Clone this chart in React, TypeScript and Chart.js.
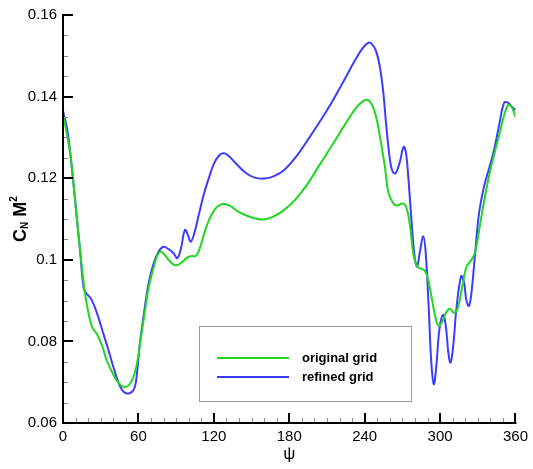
import React, { useEffect, useRef } from "react";
import { Chart, registerables } from "chart.js";

Chart.register(...registerables);

// Azimuth (deg) and normal-force coefficient for the original grid
const psiOriginal = [
  0, 3, 6, 9.5, 13.5, 17, 19, 23, 27, 31, 35, 39, 43, 48, 52, 55, 58.5, 62, 65, 68, 72, 75, 77.5, 80, 84, 88, 91, 95, 99,
  102, 106, 110, 114, 118, 122, 126, 129, 133, 140, 148, 155, 160, 166, 175, 185, 195, 204, 215, 225, 233, 238, 241.5,
  245, 249, 252, 256, 258.5, 261, 263.5, 266, 270, 273, 276, 279, 282, 285, 288, 291, 294, 297, 299, 302, 305, 308,
  311, 314, 318, 321, 325, 328, 332, 336, 340, 344, 347, 351, 354, 356, 358, 360,
];
const cnOriginal = [
  0.1355, 0.131, 0.1255, 0.115, 0.1025, 0.093, 0.089, 0.0836, 0.0818, 0.079, 0.0752, 0.0725, 0.0703, 0.0688, 0.0692,
  0.0705, 0.074, 0.081, 0.087, 0.093, 0.098, 0.101, 0.102, 0.1015, 0.1, 0.0988, 0.0987, 0.0995, 0.1006, 0.1009, 0.101,
  0.104, 0.108, 0.111, 0.1128, 0.1136, 0.1137, 0.1132, 0.1117, 0.1106, 0.11, 0.1099, 0.1104, 0.112, 0.1148, 0.1188,
  0.1232, 0.1285, 0.1335, 0.1372, 0.1387, 0.1392, 0.1385, 0.1352, 0.1305, 0.123, 0.117, 0.1148, 0.1136, 0.1133,
  0.1138, 0.113, 0.1085, 0.101, 0.0983, 0.0978, 0.0973, 0.0945, 0.0895, 0.085, 0.0838, 0.085, 0.0872, 0.088, 0.087,
  0.088, 0.094, 0.0983, 0.1, 0.102, 0.109, 0.116, 0.122, 0.127, 0.1305, 0.1355, 0.1379, 0.1378, 0.1368, 0.135,
];

// Azimuth (deg) and normal-force coefficient for the refined grid
const psiRefined = [
  0, 3, 5.5, 9.5, 13.5, 16.5, 18.5, 21, 24, 28, 32, 36, 40, 44, 47, 50, 53, 56, 58, 61, 64, 68, 72, 76, 80, 84, 88, 91,
  94, 97, 99.5, 101.5, 104, 108, 112, 116, 120, 124, 127.5, 131, 138, 145, 152, 160, 168, 176, 186, 195, 204, 214, 224,
  232, 238, 243, 246, 249, 252, 255, 257, 260, 262, 264.5, 268, 271, 273, 276, 279, 281.5, 284, 286.5, 288.5, 291, 293,
  295, 297, 299.5, 302.3, 304.5, 306.5, 308.3, 310.5, 313, 316.8, 319, 321, 323, 325, 328, 331, 335, 339, 343, 347,
  351, 354, 357, 360,
];
const cnRefined = [
  0.1365, 0.1325, 0.127, 0.115, 0.1025, 0.093, 0.0918, 0.091, 0.0894, 0.086, 0.082, 0.078, 0.0738, 0.07, 0.0681,
  0.0673, 0.0673, 0.068, 0.07, 0.079, 0.086, 0.094, 0.099, 0.102, 0.1032, 0.1026, 0.1016, 0.1004, 0.103, 0.1073,
  0.106, 0.1044, 0.106, 0.111, 0.116, 0.12, 0.1235, 0.1255, 0.1261, 0.1257, 0.1235, 0.1214, 0.1202, 0.1199, 0.1205,
  0.122, 0.1255, 0.1295, 0.1337, 0.1387, 0.1442, 0.1487, 0.1517, 0.1532, 0.1528, 0.1512, 0.1475, 0.1405, 0.1335,
  0.1248, 0.1218, 0.1212, 0.124, 0.1277, 0.126, 0.115, 0.103, 0.0983, 0.102, 0.1058, 0.102, 0.088, 0.075, 0.0695,
  0.074, 0.083, 0.0865, 0.084, 0.0775, 0.0748, 0.079, 0.088, 0.096, 0.0945, 0.09, 0.0887, 0.092, 0.102, 0.1114, 0.118,
  0.1224, 0.127, 0.133, 0.1385, 0.1385, 0.1375, 0.1367,
];

const xTicks = [0, 60, 120, 180, 240, 300, 360];
const yTicks = [0.06, 0.08, 0.1, 0.12, 0.14, 0.16];
const seriesNames = ["original grid", "refined grid"];
const seriesColors = ["#1fd81f", "#3c3cff"];

const FONT = "'Liberation Sans', Arial, Helvetica, sans-serif";

// Axis lines, inward tick marks, axis titles and the boxed legend
const framePlugin = {
  id: "frame",
  afterDatasetsDraw(chart: any) {
    const { ctx, chartArea } = chart;
    const xs = chart.scales.x;
    const ys = chart.scales.y;
    const left = chartArea.left;
    const bottom = chartArea.bottom;
    ctx.save();

    // minor ticks
    ctx.strokeStyle = "#8a8a8a";
    ctx.lineWidth = 1;
    for (let v = 0; v <= 360; v += 10) {
      if (v % 60 === 0) continue;
      const px = Math.round(xs.getPixelForValue(v)) + 0.5;
      ctx.beginPath();
      ctx.moveTo(px, bottom);
      ctx.lineTo(px, bottom - 5);
      ctx.stroke();
    }
    for (let i = 0; i <= 20; i++) {
      if (i % 4 === 0) continue;
      const v = 0.06 + i * 0.005;
      const py = Math.round(ys.getPixelForValue(v)) + 0.5;
      ctx.beginPath();
      ctx.moveTo(left, py);
      ctx.lineTo(left + 5, py);
      ctx.stroke();
    }

    // major ticks
    ctx.strokeStyle = "#000";
    ctx.lineWidth = 2;
    xTicks.forEach((v) => {
      const px = Math.round(xs.getPixelForValue(v));
      ctx.beginPath();
      ctx.moveTo(px, bottom);
      ctx.lineTo(px, bottom - 10);
      ctx.stroke();
    });
    yTicks.forEach((v) => {
      const py = Math.round(ys.getPixelForValue(v));
      ctx.beginPath();
      ctx.moveTo(left, py);
      ctx.lineTo(left + 10, py);
      ctx.stroke();
    });

    // axis lines
    ctx.beginPath();
    ctx.moveTo(left, chartArea.top - 1);
    ctx.lineTo(left, bottom);
    ctx.lineTo(chartArea.right + 1, bottom);
    ctx.stroke();

    // x title
    ctx.fillStyle = "#000";
    ctx.font = `17px ${FONT}`;
    ctx.textAlign = "center";
    ctx.textBaseline = "middle";
    ctx.fillText("\u03c8", (chartArea.left + chartArea.right) / 2, 454);

    // y title: C_N M^2, bold, rotated
    const big = `bold 18px ${FONT}`;
    const small = `bold 10px ${FONT}`;
    const parts = [
      { t: "C", f: big, dy: 0 },
      { t: "N", f: small, dy: 4 },
      { t: " M", f: big, dy: 0 },
      { t: "2", f: small, dy: -7 },
    ];
    let total = 0;
    parts.forEach((p) => {
      ctx.font = p.f;
      total += ctx.measureText(p.t).width;
    });
    ctx.translate(21, (chartArea.top + chartArea.bottom) / 2);
    ctx.rotate(-Math.PI / 2);
    ctx.textAlign = "left";
    ctx.textBaseline = "middle";
    let cx = -total / 2;
    parts.forEach((p) => {
      ctx.font = p.f;
      ctx.fillText(p.t, cx, p.dy);
      cx += ctx.measureText(p.t).width;
    });
    ctx.setTransform(1, 0, 0, 1, 0, 0);

    // legend
    const bx = 199.5;
    const by = 326.5;
    const bw = 212;
    const bh = 75;
    ctx.fillStyle = "#fff";
    ctx.fillRect(bx, by, bw, bh);
    ctx.strokeStyle = "#9a9a9a";
    ctx.lineWidth = 1;
    ctx.strokeRect(bx, by, bw, bh);
    ctx.font = `bold 13px ${FONT}`;
    ctx.textBaseline = "middle";
    ctx.textAlign = "left";
    seriesNames.forEach((name, i) => {
      const ly = 358 + i * 19;
      ctx.strokeStyle = seriesColors[i];
      ctx.lineWidth = 2;
      ctx.beginPath();
      ctx.moveTo(217, ly);
      ctx.lineTo(289, ly);
      ctx.stroke();
      ctx.fillStyle = "#000";
      ctx.fillText(name, 302, ly);
    });

    ctx.restore();
  },
};

export default function App() {
  const canvasRef = useRef<HTMLCanvasElement | null>(null);

  useEffect(() => {
    const canvas = canvasRef.current;
    if (!canvas) return;
    const toPoints = (xs: number[], ys: number[]) => xs.map((x, i) => ({ x, y: ys[i] }));
    const chart = new Chart(canvas, {
      type: "line",
      data: {
        datasets: [
          {
            label: seriesNames[0],
            data: toPoints(psiOriginal, cnOriginal),
            borderColor: seriesColors[0],
            borderWidth: 2,
            pointRadius: 0,
            tension: 0.4,
            fill: false,
          },
          {
            label: seriesNames[1],
            data: toPoints(psiRefined, cnRefined),
            borderColor: seriesColors[1],
            borderWidth: 2,
            pointRadius: 0,
            tension: 0.4,
            fill: false,
          },
        ],
      },
      options: {
        responsive: false,
        animation: false,
        layout: { padding: { top: 15, right: 17, left: 0, bottom: 0 } },
        plugins: { legend: { display: false }, tooltip: { enabled: false } },
        scales: {
          x: {
            type: "linear",
            min: 0,
            max: 360,
            afterBuildTicks: (scale: any) => {
              scale.ticks = xTicks.map((v) => ({ value: v }));
            },
            afterFit: (scale: any) => {
              scale.height = 46;
            },
            grid: { display: false, drawTicks: false },
            border: { display: false },
            ticks: {
              color: "#000",
              font: { family: FONT, size: 15 },
              padding: 5,
              maxRotation: 0,
              callback: (v: any) => String(v),
            },
          },
          y: {
            type: "linear",
            min: 0.06,
            max: 0.16,
            afterBuildTicks: (scale: any) => {
              scale.ticks = yTicks.map((v) => ({ value: v }));
            },
            afterFit: (scale: any) => {
              scale.width = 63;
            },
            grid: { display: false, drawTicks: false },
            border: { display: false },
            ticks: {
              color: "#000",
              font: { family: FONT, size: 15 },
              padding: 6,
              callback: (v: any) => String(Math.round(v * 100) / 100),
            },
          },
        },
      },
      plugins: [framePlugin],
    });
    return () => chart.destroy();
  }, []);

  return (
    <div style={{ position: "absolute", left: 0, top: 0, width: 533, height: 469, background: "#fff" }}>
      <canvas ref={canvasRef} width={533} height={469} style={{ display: "block" }} />
    </div>
  );
}
